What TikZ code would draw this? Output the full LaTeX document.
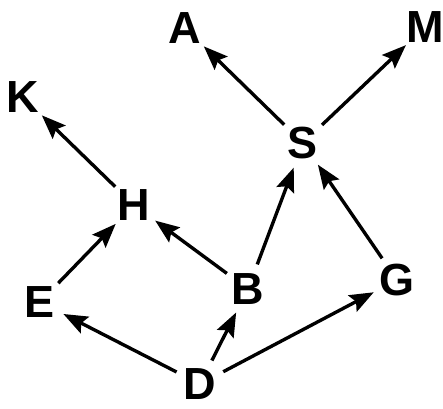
\documentclass[tikz,border=0pt]{standalone}
\usepackage{fontspec}
\setmainfont{Liberation Sans}
\usetikzlibrary{arrows.meta}

\begin{document}
\begin{tikzpicture}[
    x=0.025cm, y=-0.025cm,
    vertex/.style={
        circle,
        inner sep=0pt,
        minimum size=1.3cm,
        font=\fontsize{32}{32}\selectfont\bfseries
    },
    edge/.style={-{Stealth[length=6mm, width=4.6mm, inset=1mm]}, line width=2.4pt, black}
]

% --- Page frame ---
\useasboundingbox (0,0) rectangle (443,409);

% --- Vertices ---
\node[vertex] (a) at (185, 28)  {A};
\node[vertex] (m) at (425, 27)  {M};
\node[vertex] (k) at (23,  97)  {K};
\node[vertex] (s) at (303, 143) {S};
\node[vertex] (h) at (134, 205) {H};
\node[vertex] (b) at (248, 289) {B};
\node[vertex] (g) at (397, 280) {G};
\node[vertex] (e) at (40,  302) {E};
\node[vertex] (d) at (200, 384) {D};

% --- Edges ---
\draw[edge] (s) -- (a);
\draw[edge] (s) -- (m);
\draw[edge] (h) -- (k);
\draw[edge] (e) -- (h);
\draw[edge] (b) -- (h);
\draw[edge] (b) -- (s);
\draw[edge] (g) -- (s);
\draw[edge] (d) -- (e);
\draw[edge] (d) -- (b);
\draw[edge] (d) -- (g);

\end{tikzpicture}
\end{document}
